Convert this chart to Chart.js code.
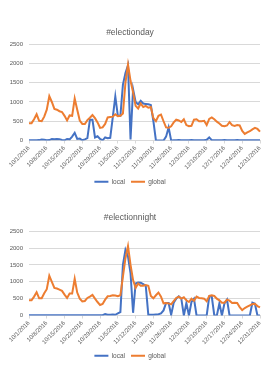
<!DOCTYPE html>
<html>
<head>
<meta charset="utf-8">
<script src="https://cdn.jsdelivr.net/npm/chart.js@4"></script>
<style>
  html, body { margin: 0; padding: 0; background: #fff; }
  body { width: 270px; height: 383px; position: relative; overflow: hidden; }
  .box { position: absolute; left: 0; width: 270px; }
  #box1 { top: 0; height: 197px; }
  #box2 { top: 192px; height: 191px; }
</style>
</head>
<body>
<div class="box" id="box1"><canvas id="dayChart"></canvas></div>
<div class="box" id="box2"><canvas id="nightChart"></canvas></div>
<script>
// Categories: one per day, 10/1/2016 .. 12/31/2016
const dates = [
  '10/1/2016','10/2/2016','10/3/2016','10/4/2016','10/5/2016','10/6/2016','10/7/2016','10/8/2016','10/9/2016','10/10/2016',
  '10/11/2016','10/12/2016','10/13/2016','10/14/2016','10/15/2016','10/16/2016','10/17/2016','10/18/2016','10/19/2016','10/20/2016',
  '10/21/2016','10/22/2016','10/23/2016','10/24/2016','10/25/2016','10/26/2016','10/27/2016','10/28/2016','10/29/2016','10/30/2016',
  '10/31/2016','11/1/2016','11/2/2016','11/3/2016','11/4/2016','11/5/2016','11/6/2016','11/7/2016','11/8/2016','11/9/2016',
  '11/10/2016','11/11/2016','11/12/2016','11/13/2016','11/14/2016','11/15/2016','11/16/2016','11/17/2016','11/18/2016','11/19/2016',
  '11/20/2016','11/21/2016','11/22/2016','11/23/2016','11/24/2016','11/25/2016','11/26/2016','11/27/2016','11/28/2016','11/29/2016',
  '11/30/2016','12/1/2016','12/2/2016','12/3/2016','12/4/2016','12/5/2016','12/6/2016','12/7/2016','12/8/2016','12/9/2016',
  '12/10/2016','12/11/2016','12/12/2016','12/13/2016','12/14/2016','12/15/2016','12/16/2016','12/17/2016','12/18/2016','12/19/2016',
  '12/20/2016','12/21/2016','12/22/2016','12/23/2016','12/24/2016','12/25/2016','12/26/2016','12/27/2016','12/28/2016','12/29/2016',
  '12/30/2016','12/31/2016'
];

// #electionday
const dayLocal = [
  5, 5, 5, 5, 10, 25, 20, 5, 10, 40,
  30, 40, 35, 15, 5, 40, 30, 100, 200, 40,
  50, 5, 30, 60, 540, 540, 80, 110, 40, 5,
  80, 60, 70, 600, 1145, 640, 640, 1450, 1750, 1950,
  30, 1330, 1000, 940, 1030, 960, 950, 940, 920, 500,
  0, 0, 0, 0, 100, 340, 0, 5, 5, 10,
  5, 5, 5, 5, 10, 5, 5, 5, 5, 5,
  20, 80, 10, 5, 5, 5, 5, 10, 5, 5,
  5, 5, 10, 5, 5, 5, 5, 5, 5, 5,
  5, 5
];
const dayGlobal = [
  445, 450, 550, 680, 510, 500, 620, 800, 1150, 1000,
  820, 800, 760, 740, 640, 520, 650, 640, 1090, 800,
  520, 430, 430, 530, 590, 660, 580, 470, 330, 340,
  430, 600, 610, 620, 680, 630, 640, 700, 1500, 1970,
  1550, 1250, 900, 830, 960, 870, 900, 850, 870, 580,
  500, 640, 670, 500, 340, 330, 370, 470, 540, 520,
  480, 550, 400, 370, 380, 540, 550, 500, 500, 510,
  400, 560, 600, 550, 490, 440, 380, 370, 390, 480,
  400, 380, 400, 390, 250, 170, 210, 240, 290, 330,
  300, 230
];

// #electionnight
const nightLocal = [
  5, 5, 5, 5, 5, 5, 5, 5, 5, 5,
  5, 5, 5, 5, 5, 5, 5, 5, 10, 5,
  5, 5, 5, 5, 5, 5, 5, 5, 5, 10,
  40, 25, 20, 30, 20, 60, 100, 1500, 1950, 1750,
  1250, 80, 950, 980, 970, 930, 880, 20, 20, 20,
  30, 40, 60, 150, 370, 370, 20, 380, 500, 570,
  500, 0, 370, 0, 400, 500, 0, 0, 0, 0,
  0, 560, 560, 0, 0, 360, 0, 360, 470, 0,
  0, 0, 0, 0, 0, 0, 0, 0, 380, 350,
  0, 0
];
const nightGlobal = [
  450, 450, 560, 690, 510, 510, 660, 780, 1180, 1000,
  820, 800, 770, 730, 620, 520, 650, 650, 1090, 680,
  500, 420, 430, 520, 560, 610, 500, 400, 310, 340,
  470, 570, 580, 600, 590, 570, 600, 1150, 1700, 2060,
  1500, 1050, 820, 950, 880, 880, 900, 880, 580, 510,
  600, 680, 560, 360, 370, 360, 330, 430, 520, 560,
  500, 540, 450, 400, 500, 440, 560, 520, 510, 500,
  420, 580, 600, 580, 500, 450, 380, 380, 470, 440,
  370, 380, 370, 250, 160, 220, 260, 300, 340, 350,
  280, 240
];

const yTicks = [0, 500, 1000, 1500, 2000, 2500];

const BLUE = '#4472C4';
const ORANGE = '#ED7D31';
const GRID = '#D9D9D9';
const TEXT = '#595959';
const FONT = "'Liberation Sans', Arial, sans-serif";

function makeChart(id, title, local, global, opts) {
  const ctx = document.getElementById(id).getContext('2d');
  return new Chart(ctx, {
    type: 'line',
    data: {
      labels: dates,
      datasets: [
        { label: 'local', data: local, borderColor: BLUE, backgroundColor: BLUE,
          borderWidth: 2, pointRadius: 0, tension: 0, order: 1 },
        { label: 'global', data: global, borderColor: ORANGE, backgroundColor: ORANGE,
          borderWidth: 2, pointRadius: 0, tension: 0, order: 0 }
      ]
    },
    options: {
      responsive: true,
      maintainAspectRatio: false,
      animation: false,
      layout: { padding: { left: 0, right: 10, top: 0, bottom: opts.bottom } },
      scales: {
        x: {
          grid: {
            drawOnChartArea: false,
            drawTicks: true,
            tickLength: 3,
            color: c => (c.index % 7 === 0 ? GRID : 'rgba(0,0,0,0)')
          },
          border: { display: true, color: GRID },
          ticks: {
            autoSkip: false,
            minRotation: 45,
            maxRotation: 45,
            padding: 1,
            color: TEXT,
            font: { family: FONT, size: 6 },
            callback: function (val, i) {
              return i % 7 === 0 ? this.getLabelForValue(val) : '';
            }
          },
          afterFit: s => { s.height = opts.xHeight; }
        },
        y: {
          min: 0,
          max: 2500,
          afterBuildTicks: s => { s.ticks = yTicks.map(v => ({ value: v })); },
          grid: { color: GRID, drawTicks: false },
          border: { display: false },
          ticks: {
            padding: 6, color: TEXT, font: { family: FONT, size: 6 },
            callback: v => String(v)
          },
          afterFit: s => { s.width = 29; }
        }
      },
      plugins: {
        title: {
          display: true,
          text: title,
          color: TEXT,
          font: { family: FONT, size: 8.5, weight: 'normal' },
          padding: { top: opts.titleTop, bottom: opts.titleBottom }
        },
        legend: {
          position: 'bottom',
          labels: {
            usePointStyle: true,
            pointStyle: 'line',
            pointStyleWidth: 14,
            boxHeight: 6,
            padding: 6,
            color: TEXT,
            font: { family: FONT, size: 6.5 },
            sort: (a, b) => a.datasetIndex - b.datasetIndex
          }
        },
        tooltip: { enabled: false }
      }
    }
  });
}

makeChart('dayChart', '#electionday', dayLocal, dayGlobal,
  { titleTop: 28, titleBottom: 6, xHeight: 32, bottom: 2 });
makeChart('nightChart', '#electionnight', nightLocal, nightGlobal,
  { titleTop: 21, titleBottom: 8, xHeight: 31, bottom: 14 });
</script>
</body>
</html>
